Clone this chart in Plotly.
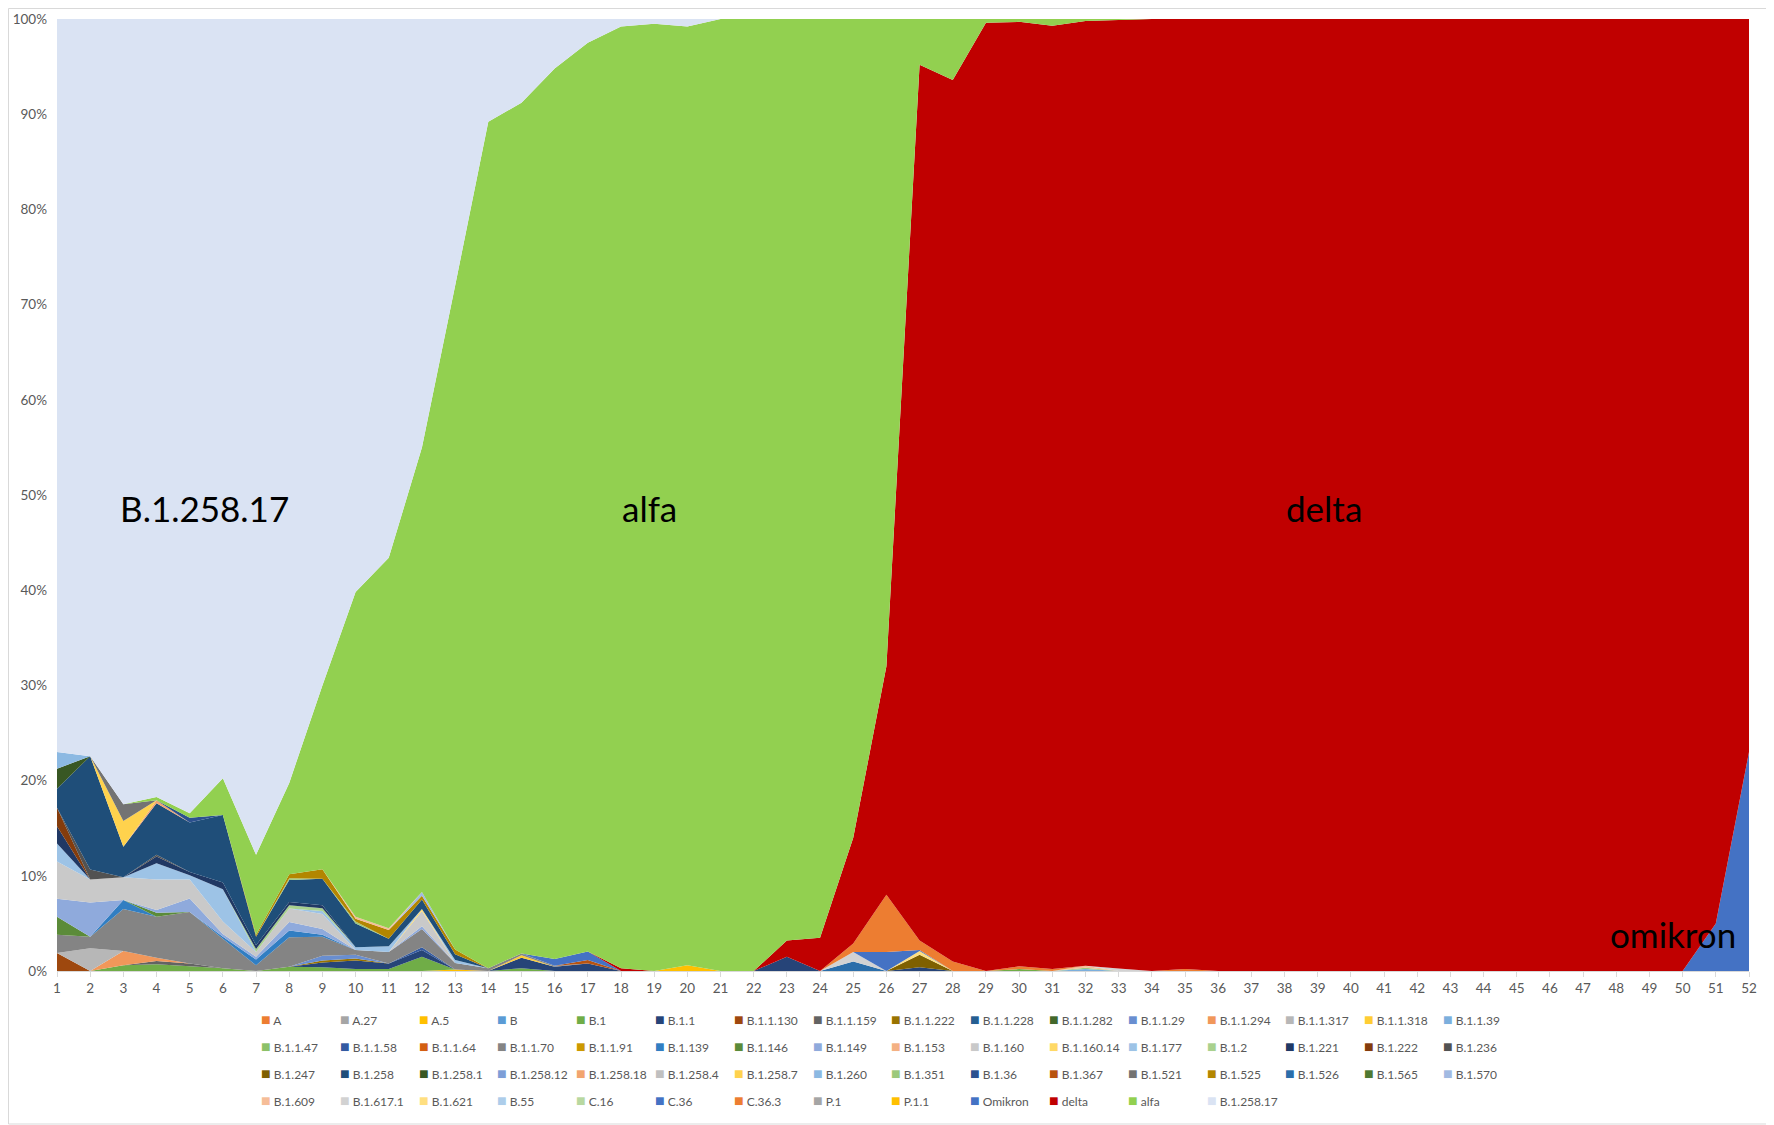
import plotly.graph_objects as go

# ---------------- data (share of sequenced samples, % per week) ----------------
WEEKS = list(range(1, 53))
WEEK_LABELS = [str(w) for w in WEEKS]
Y_TICKS = [0, 10, 20, 30, 40, 50, 60, 70, 80, 90, 100]
Y_TICK_LABELS = ["0%", "10%", "20%", "30%", "40%", "50%", "60%", "70%", "80%", "90%", "100%"]

# minor lineages: week -> share (weeks not listed are 0)
A = {}
A_27 = {}
A_5 = {13: 0.15}
B = {}
B_1 = {3: 0.6, 4: 0.7, 5: 0.5, 6: 0.3, 8: 0.45, 9: 0.4, 10: 0.2, 11: 0.2, 12: 1.5, 15: 0.3, 30: 0.2}
B_1_1 = {9: 0.5, 10: 0.9, 11: 0.6, 12: 0.7, 15: 1.1, 16: 0.45, 17: 0.8, 23: 1.5, 27: 0.4}
B_1_1_130 = {1: 1.9}
B_1_1_159 = {4: 0.35, 5: 0.3}
B_1_1_222 = {9: 0.2, 10: 0.2}
B_1_1_228 = {}
B_1_1_282 = {}
B_1_1_29 = {9: 0.5, 10: 0.4}
B_1_1_294 = {3: 1.5, 4: 0.35}
B_1_1_317 = {2: 2.4}
B_1_1_318 = {15: 0.25}
B_1_1_39 = {32: 0.2}
B_1_1_47 = {}
B_1_1_58 = {12: 0.3}
B_1_1_64 = {}
B_1_1_70 = {1: 1.9, 2: 1.2, 3: 4.4, 4: 4.3, 5: 5.4, 6: 3.1, 7: 0.6, 8: 3.1, 9: 2.0, 10: 0.5,
            11: 1.2, 12: 1.9, 13: 0.7, 14: 0.3, 15: 0.2, 16: 0.1}
B_1_1_91 = {}
B_1_139 = {3: 0.95, 6: 0.2, 7: 0.6, 8: 0.7, 9: 0.2}
B_1_146 = {1: 1.9, 4: 0.4}
B_1_149 = {1: 1.9, 2: 3.6, 4: 0.3, 5: 1.4, 6: 0.3, 7: 0.3, 8: 0.9, 9: 0.6, 12: 0.3}
B_1_153 = {}
B_1_160 = {1: 3.9, 2: 2.4, 3: 2.4, 4: 3.2, 5: 2.0, 6: 1.3, 7: 0.5, 8: 1.4, 9: 1.6, 12: 1.6}
B_1_160_14 = {12: 0.2}
B_1_177 = {1: 1.9, 4: 1.7, 5: 0.45, 6: 3.4, 9: 0.3, 10: 0.3, 11: 0.6, 13: 0.3}
B_1_2 = {7: 0.3, 8: 0.35, 9: 0.3}
B_1_221 = {1: 1.8, 4: 0.7, 5: 0.35, 6: 0.7, 7: 0.4, 8: 0.35, 9: 0.3}
B_1_222 = {1: 1.95}
B_1_236 = {2: 1.05, 4: 0.2}
B_1_247 = {27: 1.3}
B_1_258 = {1: 2.0, 2: 11.9, 3: 3.2, 4: 5.4, 5: 5.2, 6: 7.1, 7: 0.9, 8: 2.3, 9: 2.8, 10: 2.5,
           11: 0.8, 12: 1.0, 13: 0.6}
B_1_258_1 = {1: 2.1}
B_1_258_12 = {}
B_1_258_18 = {4: 0.3}
B_1_258_4 = {}
B_1_258_7 = {3: 2.7}
B_1_260 = {1: 1.75}
B_1_351 = {8: 0.2, 10: 0.2, 32: 0.15}
B_1_36 = {5: 0.5}
B_1_367 = {17: 0.35}
B_1_521 = {3: 1.75}
B_1_525 = {7: 0.2, 8: 0.4, 9: 1.0, 10: 0.3, 11: 0.9, 12: 0.4, 13: 0.5}
B_1_526 = {25: 1.0}
B_1_565 = {}
B_1_570 = {12: 0.4}
B_1_609 = {10: 0.2, 11: 0.2, 32: 0.2}
B_1_617_1 = {25: 1.0, 33: 0.25}
B_1_621 = {27: 0.4}
B_55 = {}
C_16 = {}
C_36 = {16: 0.7, 17: 0.9, 26: 2.0, 27: 0.1}
C_36_3 = {25: 0.9, 26: 6.0, 27: 1.0, 28: 1.0, 30: 0.3, 31: 0.2, 35: 0.2}
P_1 = {}
P_1_1 = {20: 0.6}

# major lineages, full weekly series (weeks 1..52)
OMIKRON = [0, 0, 0, 0, 0, 0, 0, 0, 0, 0, 0, 0, 0, 0, 0, 0, 0, 0, 0, 0, 0, 0, 0, 0, 0, 0,
           0, 0, 0, 0, 0, 0, 0, 0, 0, 0, 0, 0, 0, 0, 0, 0, 0, 0, 0, 0, 0, 0, 0, 0, 5, 23]
DELTA = [0, 0, 0, 0, 0, 0, 0, 0, 0, 0, 0, 0, 0, 0, 0, 0, 0, 0.3, 0, 0, 0, 0, 1.7, 3.5, 11.1, 24,
         92, 92.6, 99.6, 99.2, 99.1, 99.25, 99.65, 100, 99.8, 100, 100, 100, 100, 100, 100, 100,
         100, 100, 100, 100, 100, 100, 100, 100, 95, 77]
ALFA = [0, 0, 0, 0.35, 0.45, 3.85, 8.4, 9.6, 19.3, 34.1, 38.9, 46.7, 69.7, 88.9, 89.35, 93.55,
        95.45, 98.9, 99.5, 98.6, 100, 100, 96.8, 96.5, 86, 68, 4.8, 6.4, 0.4, 0.3, 0.7, 0.2, 0.1,
        0, 0, 0, 0, 0, 0, 0, 0, 0, 0, 0, 0, 0, 0, 0, 0, 0, 0, 0]
B_1_258_17 = [77.0, 77.4, 82.4, 81.6, 83.4, 79.8, 87.8, 80.2, 70.0, 60.2, 56.6, 45.0, 28.0, 10.8,
              8.8, 5.2, 2.5, 0.8, 0.5, 0.8, 0, 0, 0, 0, 0, 0, 0, 0, 0, 0, 0, 0, 0, 0, 0, 0, 0, 0,
              0, 0, 0, 0, 0, 0, 0, 0, 0, 0, 0, 0, 0, 0]

SERIES_NAMES = [
    "A", "A.27", "A.5", "B", "B.1", "B.1.1", "B.1.1.130", "B.1.1.159", "B.1.1.222", "B.1.1.228",
    "B.1.1.282", "B.1.1.29", "B.1.1.294", "B.1.1.317", "B.1.1.318", "B.1.1.39",
    "B.1.1.47", "B.1.1.58", "B.1.1.64", "B.1.1.70", "B.1.1.91", "B.1.139", "B.1.146", "B.1.149",
    "B.1.153", "B.1.160", "B.1.160.14", "B.1.177", "B.1.2", "B.1.221", "B.1.222", "B.1.236",
    "B.1.247", "B.1.258", "B.1.258.1", "B.1.258.12", "B.1.258.18", "B.1.258.4", "B.1.258.7",
    "B.1.260", "B.1.351", "B.1.36", "B.1.367", "B.1.521", "B.1.525", "B.1.526", "B.1.565", "B.1.570",
    "B.1.609", "B.1.617.1", "B.1.621", "B.55", "C.16", "C.36", "C.36.3", "P.1", "P.1.1",
    "Omikron", "delta", "alfa", "B.1.258.17",
]
SERIES_VALUES = [
    A, A_27, A_5, B, B_1, B_1_1, B_1_1_130, B_1_1_159, B_1_1_222, B_1_1_228,
    B_1_1_282, B_1_1_29, B_1_1_294, B_1_1_317, B_1_1_318, B_1_1_39,
    B_1_1_47, B_1_1_58, B_1_1_64, B_1_1_70, B_1_1_91, B_1_139, B_1_146, B_1_149,
    B_1_153, B_1_160, B_1_160_14, B_1_177, B_1_2, B_1_221, B_1_222, B_1_236,
    B_1_247, B_1_258, B_1_258_1, B_1_258_12, B_1_258_18, B_1_258_4, B_1_258_7,
    B_1_260, B_1_351, B_1_36, B_1_367, B_1_521, B_1_525, B_1_526, B_1_565, B_1_570,
    B_1_609, B_1_617_1, B_1_621, B_55, C_16, C_36, C_36_3, P_1, P_1_1,
    OMIKRON, DELTA, ALFA, B_1_258_17,
]

# ---------------- styles ----------------
SERIES_COLORS = [
    "#ED7D31", "#A5A5A5", "#FFC000", "#5B9BD5", "#70AD47", "#264478", "#9E480E", "#636363",
    "#997300", "#255E91", "#43682B", "#698ED0", "#F1975A", "#B7B7B7", "#FFCD33", "#7CAFDD",
    "#8CC168", "#335AA1", "#D35F12", "#848484", "#CC9900", "#317EC2", "#5B8B39", "#8FAADC",
    "#F4B183", "#C9C9C9", "#FFD966", "#9DC3E6", "#A9D18E", "#203864", "#843C0C", "#525252",
    "#7F6000", "#1F4E79", "#385723", "#7D9ED7", "#F2A46F", "#C0C0C0", "#FFD24D", "#8CB9E2",
    "#9CC97B", "#2C518F", "#B85310", "#737373", "#B38600", "#2B6EAA", "#4F7931", "#A2BAE2",
    "#F6BD98", "#D2D2D2", "#FFDF80", "#ADCDEA", "#B8D8A0", "#4472C4", "#ED7D31", "#A5A5A5",
    "#FFC000", "#4472C4", "#C00000", "#92D050", "#DAE3F3",
]

# page geometry (the html page adds an 8px body margin, so the figure is offset by 8px)
PAGE_OFF = 8
W, H = 1774 - PAGE_OFF, 1125 - PAGE_OFF
ML, MR, MT, MB = 57 - PAGE_OFF, 25, 19 - PAGE_OFF, 154
PW, PH = W - ML - MR, H - MT - MB
FONT = "Lato, 'Open Sans', sans-serif"
GREY_TXT = "#595959"


def weekly(v):
    if isinstance(v, dict):
        return [v.get(w, 0) for w in WEEKS]
    return list(v)


fig = go.Figure()
for i, (name, vals, col) in enumerate(zip(SERIES_NAMES, SERIES_VALUES, SERIES_COLORS)):
    fig.add_trace(go.Scatter(
        x=WEEKS, y=weekly(vals), name=name, mode="none",
        stackgroup="one", groupnorm="percent" if i == 0 else None,
        fillcolor=col, line=dict(width=0), showlegend=False,
    ))

# legend built as a 16-column grid of text entries (as in the original)
LEG_X0, LEG_DX = 259, 78.8          # page pixels
LEG_ROWS_Y = [1018.5, 1045.5, 1072.5, 1099.5]
for i, (name, col) in enumerate(zip(SERIES_NAMES, SERIES_COLORS)):
    r, c = divmod(i, 16)
    px = LEG_X0 + c * LEG_DX - PAGE_OFF
    py = LEG_ROWS_Y[r] - PAGE_OFF
    fig.add_annotation(
        x=(px - ML) / PW, y=(H - MB - py) / PH, xref="paper", yref="paper",
        xanchor="left", yanchor="middle", showarrow=False,
        text=f'<span style="color:{col};font-size:16px">■</span> {name}',
        font=dict(family=FONT, size=12, color=GREY_TXT),
    )

# big in-chart labels
LABELS = [("B.1.258.17", 5.45, 48.6), ("alfa", 18.85, 48.6), ("delta", 39.2, 48.6), ("omikron", 49.7, 3.9)]
for txt, lx, ly in LABELS:
    fig.add_annotation(x=lx, y=ly, xref="x", yref="y", text=txt, showarrow=False,
                       font=dict(family=FONT, size=35, color="#000000"))

# outer chart border
fig.add_shape(type="rect", xref="paper", yref="paper",
              x0=(-ML + 0.5) / PW, x1=1 + (MR - 1) / PW,
              y0=(-MB + 1) / PH, y1=1 + (MT - 0.5) / PH,
              line=dict(color="#D9D9D9", width=1), fillcolor="rgba(0,0,0,0)", layer="above")

fig.update_layout(
    width=W, height=H,
    margin=dict(l=ML, r=MR, t=MT, b=MB, autoexpand=False),
    paper_bgcolor="white", plot_bgcolor="white",
    showlegend=False,
    font=dict(family=FONT, color=GREY_TXT, size=13.5),
    xaxis=dict(range=[1, 52], tickmode="array", tickvals=WEEKS, ticktext=WEEK_LABELS,
               showgrid=False, zeroline=False, showline=True, linecolor="#D9D9D9", linewidth=1,
               ticks="outside", ticklen=5, tickcolor="#D9D9D9",
               tickfont=dict(family=FONT, size=13.5, color=GREY_TXT)),
    yaxis=dict(range=[0, 100], tickmode="array", tickvals=Y_TICKS, ticktext=Y_TICK_LABELS,
               showgrid=False, zeroline=False, showline=False, ticks="",
               ticklabelstandoff=9,
               tickfont=dict(family=FONT, size=13.5, color=GREY_TXT)),
)

fig.write_html("out.html")
